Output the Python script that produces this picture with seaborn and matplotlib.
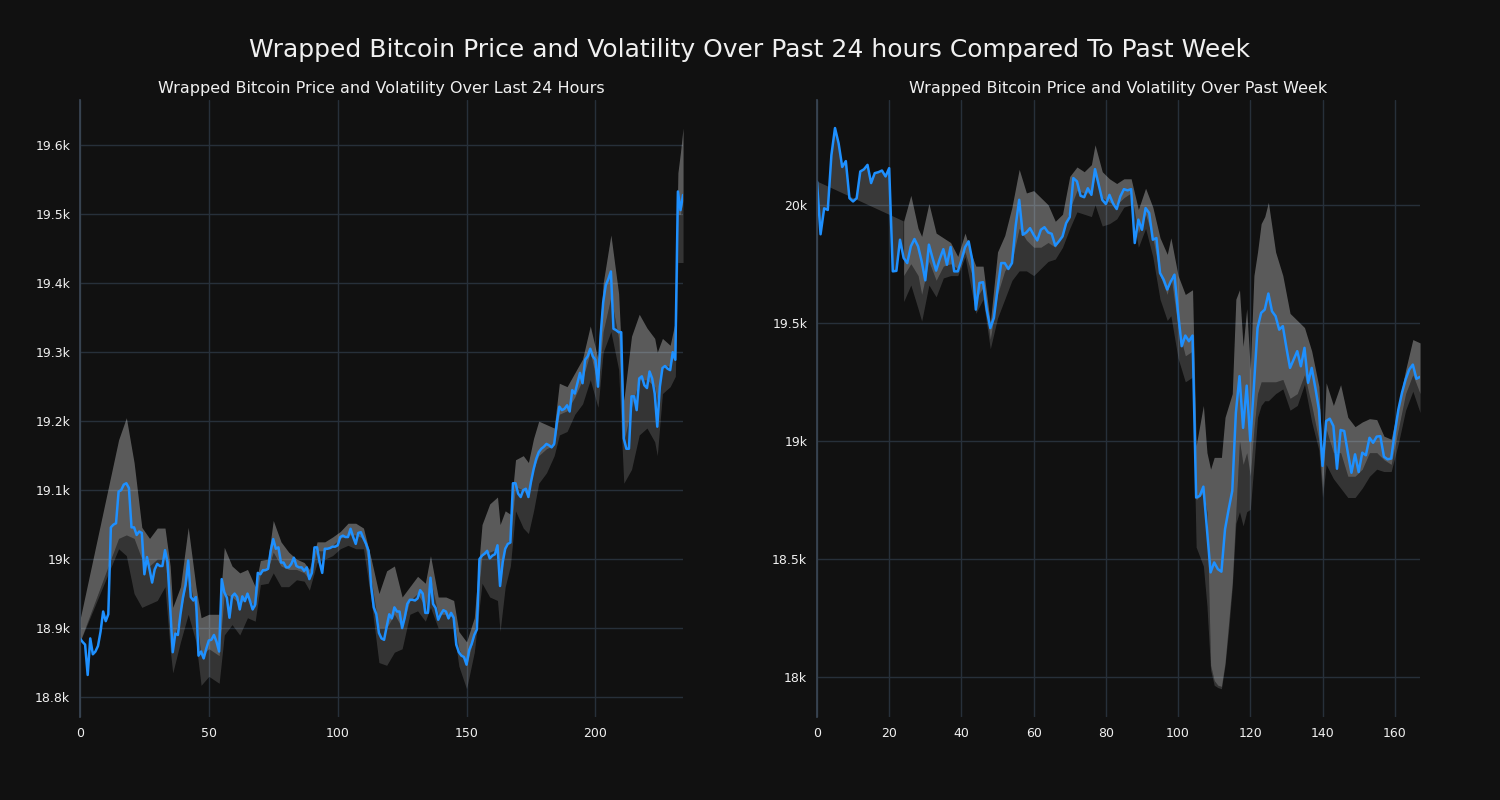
import numpy as np
import matplotlib
matplotlib.use('Agg')
import matplotlib.pyplot as plt
from matplotlib.ticker import FuncFormatter, MultipleLocator
import seaborn as sns

# ---- last 24 hours ----
day_price = [
    18885, 18880, 18876, 18832, 18885, 18862, 18866, 18874, 18895, 18924,
    18910, 18920, 19046, 19050, 19052, 19098, 19100, 19108, 19110, 19103,
    19046, 19046, 19035, 19040, 19038, 18978, 19003, 18985, 18966, 18985,
    18993, 18990, 18990, 19013, 18995, 18930, 18865, 18892, 18890, 18920,
    18945, 18963, 18998, 18945, 18940, 18945, 18860, 18866, 18856, 18870,
    18882, 18883, 18890, 18880, 18866, 18971, 18952, 18944, 18915, 18946,
    18950, 18945, 18927, 18946, 18939, 18950, 18939, 18927, 18934, 18980,
    18978, 18984, 18984, 18986, 19012, 19029, 19015, 19017, 18995, 18995,
    18988, 18988, 18993, 19002, 18990, 18988, 18988, 18983, 18988, 18971,
    18980, 19017, 19017, 18995, 18980, 19015, 19015, 19016, 19018, 19018,
    19020, 19032, 19034, 19032, 19032, 19044, 19032, 19022, 19038, 19039,
    19030, 19022, 19012, 18960, 18930, 18920, 18893, 18885, 18883, 18902,
    18920, 18914, 18930, 18924, 18924, 18900, 18915, 18935, 18941, 18941,
    18940, 18943, 18955, 18950, 18922, 18922, 18973, 18935, 18929, 18912,
    18920, 18926, 18924, 18914, 18922, 18915, 18876, 18865, 18860, 18858,
    18847, 18868, 18877, 18890, 18898, 19000, 19005, 19008, 19012, 19001,
    19005, 19007, 19020, 18961, 18995, 19015, 19022, 19024, 19110, 19110,
    19095, 19090, 19100, 19102, 19090, 19112, 19130, 19145, 19155, 19160,
    19163, 19167, 19165, 19162, 19167, 19197, 19221, 19216, 19218, 19223,
    19214, 19245, 19240, 19255, 19270, 19255, 19289, 19294, 19305, 19294,
    19289, 19250, 19323, 19372, 19397, 19406, 19417, 19334, 19332, 19329,
    19329, 19175, 19160, 19160, 19236, 19236, 19216, 19262, 19265, 19252,
    19248, 19272, 19262, 19240, 19192, 19250, 19277, 19280, 19276, 19274,
    19300, 19289, 19533, 19506, 19528,
]
day_band_x = [0, 15, 18, 21, 24, 27, 30, 33, 35, 36, 39, 42, 45, 47, 50, 54, 56,
              59, 62, 65, 68, 70, 73, 75, 78, 81, 84, 87, 89, 92, 95, 98, 101,
              104, 107, 110, 113, 116, 119, 122, 125, 128, 131, 134, 136, 139,
              142, 145, 147, 150, 153, 156, 159, 162, 163, 165, 167, 169, 172,
              174, 176, 178, 181, 184, 186, 189, 192, 195, 198, 201, 203, 206,
              209, 211, 214, 217, 220, 223, 224, 226, 229, 231, 232, 233, 234]
day_band_lo = [18880, 19015, 19005, 18950, 18930, 18935, 18940, 18960, 18870, 18835,
               18880, 18920, 18880, 18817, 18830, 18820, 18890, 18905, 18890, 18915,
               18910, 18963, 18965, 18980, 18960, 18960, 18970, 18968, 18955, 18995,
               19000, 19005, 19015, 19020, 19015, 19015, 18940, 18850, 18846, 18865,
               18870, 18920, 18925, 18910, 18930, 18900, 18900, 18900, 18845, 18812,
               18865, 18965, 18945, 18940, 18895, 18960, 18990, 19070, 19045, 19037,
               19070, 19110, 19125, 19150, 19180, 19185, 19210, 19225, 19260, 19220,
               19300, 19330, 19275, 19110, 19130, 19180, 19190, 19170, 19150, 19240,
               19250, 19265, 19430, 19430, 19430]
day_band_mid = [18880, 19030, 19035, 19030, 19000, 18990, 19000, 19000, 18930, 18880,
                18920, 18980, 18920, 18860, 18870, 18860, 18950, 18945, 18935, 18945,
                18930, 18980, 18985, 19010, 18990, 18985, 18985, 18980, 18970, 19012,
                19012, 19020, 19030, 19035, 19035, 19030, 18970, 18900, 18900, 18920,
                18900, 18940, 18950, 18930, 18970, 18920, 18920, 18915, 18870, 18845,
                18890, 19005, 19010, 19015, 18960, 19020, 19030, 19105, 19100, 19090,
                19130, 19150, 19160, 19165, 19210, 19215, 19235, 19260, 19300, 19250,
                19330, 19380, 19320, 19170, 19220, 19260, 19260, 19250, 19230, 19280,
                19280, 19300, 19500, 19500, 19520]
day_band_hi = [18912, 19173, 19205, 19140, 19046, 19030, 19045, 19045, 18990, 18930,
               18960, 19046, 18960, 18915, 18920, 18920, 19017, 18990, 18980, 18985,
               18960, 18998, 19000, 19056, 19025, 19010, 19000, 18995, 18985, 19025,
               19025, 19032, 19040, 19052, 19052, 19045, 19000, 18950, 18983, 18990,
               18945, 18960, 18975, 18965, 19005, 18945, 18945, 18940, 18895, 18880,
               18915, 19050, 19080, 19090, 19050, 19070, 19065, 19144, 19150, 19140,
               19175, 19200, 19195, 19190, 19255, 19250, 19270, 19290, 19338, 19290,
               19400, 19470, 19385, 19230, 19323, 19355, 19335, 19320, 19300, 19320,
               19310, 19345, 19560, 19590, 19625]

# ---- past week ----
week_price = [
    20099, 19875, 19985, 19978, 20210, 20325, 20260, 20160, 20185, 20028,
    20014, 20028, 20141, 20150, 20169, 20092, 20134, 20138, 20145, 20120,
    20155, 19718, 19720, 19852, 19775, 19753, 19824, 19855, 19824, 19760,
    19680, 19831, 19775, 19721, 19770, 19812, 19746, 19821, 19718, 19718,
    19765, 19820, 19845, 19767, 19556, 19669, 19672, 19556, 19478, 19521,
    19641, 19753, 19753, 19728, 19753, 19908, 20021, 19873, 19883, 19901,
    19873, 19849, 19894, 19905, 19883, 19877, 19827, 19845, 19866, 19922,
    19948, 20113, 20099, 20038, 20032, 20070, 20042, 20151, 20085, 20021,
    20003, 20042, 20005, 19982, 20035, 20066, 20061, 20066, 19838, 19937,
    19894, 19986, 19965, 19852, 19859, 19711, 19683, 19641, 19676, 19704,
    19542, 19401, 19446, 19422, 19446, 18760, 18767, 18806, 18626, 18443,
    18485, 18457, 18446, 18626, 18710, 18788, 19119, 19274, 19055, 19234,
    18999, 19232, 19478, 19542, 19556, 19624, 19549, 19528, 19471, 19486,
    19394, 19309, 19345, 19380, 19316, 19394, 19246, 19309, 19225, 19133,
    18894, 19084, 19094, 19063, 18882, 19046, 19042, 18950, 18865, 18943,
    18868, 18950, 18939, 19013, 18992, 19018, 19020, 18933, 18922, 18925,
    19035, 19133, 19204, 19260, 19302, 19323, 19263, 19271,
]
week_wedge_x = [0, 24]
week_wedge_y = [20099, 19930]
week_band_x = [24, 26, 28, 29, 31, 33, 35, 37, 39, 41, 43, 44, 46, 48, 50, 52, 54,
               56, 58, 60, 62, 64, 66, 68, 70, 72, 74, 76, 77, 79, 81, 83, 85, 87,
               89, 91, 93, 95, 97, 98, 100, 102, 104, 105, 107, 108, 109, 110, 111,
               112, 113, 114, 115, 116, 117, 118, 119, 120, 121, 122, 123, 124, 125,
               127, 129, 131, 133, 135, 137, 139, 140, 141, 143, 145, 147, 149, 151,
               153, 155, 157, 159, 161, 163, 165, 167]
week_band_lo = [19590, 19660, 19560, 19507, 19660, 19610, 19690, 19700, 19700, 19780,
                19620, 19540, 19600, 19390, 19520, 19600, 19680, 19720, 19720, 19700,
                19730, 19760, 19770, 19820, 19900, 19970, 19960, 19950, 20000, 19910,
                19920, 19940, 19990, 20000, 19820, 19900, 19780, 19600, 19510, 19530,
                19350, 19250, 19270, 18550, 18470, 18300, 18030, 17965, 17955, 17950,
                18050, 18200, 18380, 18650, 18700, 18640, 18700, 18710, 18900, 19100,
                19150, 19170, 19170, 19200, 19220, 19130, 19150, 19240, 19080, 18960,
                18760, 18900, 18840, 18800, 18760, 18760, 18800, 18850, 18880, 18870,
                18870, 18990, 19130, 19210, 19120]
week_band_mid = [19700, 19750, 19700, 19620, 19760, 19680, 19740, 19750, 19730, 19800,
                 19700, 19600, 19650, 19430, 19620, 19720, 19760, 19900, 19850, 19820,
                 19820, 19840, 19820, 19870, 19980, 20060, 20050, 20050, 20120, 20030,
                 20010, 20000, 20030, 20050, 19880, 19960, 19860, 19700, 19620, 19700,
                 19480, 19360, 19380, 18750, 18780, 18700, 18050, 17985, 17965, 17960,
                 18060, 18230, 18400, 18700, 19000, 18900, 18950, 18850, 19050, 19200,
                 19250, 19250, 19250, 19250, 19260, 19180, 19200, 19280, 19150, 19000,
                 18800, 19050, 18950, 18950, 18850, 18850, 18880, 18950, 18950, 18920,
                 18900, 19050, 19200, 19280, 19200]
week_band_hi = [19930, 20040, 19900, 19866, 20005, 19880, 19860, 19840, 19781, 19880,
                19780, 19740, 19740, 19500, 19800, 19870, 19990, 20150, 20050, 20060,
                20030, 20000, 19930, 19960, 20120, 20160, 20140, 20170, 20254, 20140,
                20110, 20090, 20110, 20110, 19980, 20070, 19990, 19860, 19790, 19860,
                19700, 19620, 19640, 18980, 19150, 18950, 18880, 18930, 18930, 18930,
                19100, 19150, 19200, 19600, 19640, 19400, 19560, 19300, 19700, 19800,
                19920, 19950, 20010, 19800, 19700, 19540, 19510, 19480, 19380, 19230,
                18900, 19246, 19150, 19238, 19100, 19060, 19080, 19094, 19090, 19020,
                19007, 19150, 19300, 19429, 19415]

BG = '#111111'
GRID = '#27303a'

sns.set_theme(style='dark', rc={
    'axes.facecolor': BG,
    'figure.facecolor': BG,
    'axes.grid': True,
    'grid.color': GRID,
    'grid.linewidth': 1.0,
    'axes.edgecolor': '#3a4654',
    'text.color': '#f0f0f0',
    'xtick.color': '#f0f0f0',
    'ytick.color': '#f0f0f0',
    'axes.labelcolor': '#f0f0f0',
})
plt.rcParams['font.family'] = ['DejaVu Sans']


def k_fmt(v, _):
    return f'{v / 1000:g}k'


def draw_panel(ax, price, band_x, lo, mid, hi, title, xstep, ystep, wedge=None):
    x = np.arange(len(price))
    ax.fill_between(band_x, lo, mid, color='white', alpha=0.15, lw=0)
    ax.fill_between(band_x, mid, hi, color='white', alpha=0.31, lw=0)
    if wedge is not None:
        wx, wy = wedge
        n = wx[-1] + 1
        ax.fill(np.r_[x[:n], wx[::-1]], np.r_[price[:n], wy[::-1]],
                color='white', alpha=0.17, lw=0)
    sns.lineplot(x=x, y=price, ax=ax, color='#1e90ff', linewidth=1.8)
    ax.set_xlim(0, len(price) - 1)
    ax.xaxis.set_major_locator(MultipleLocator(xstep))
    ax.yaxis.set_major_locator(MultipleLocator(ystep))
    ax.yaxis.set_major_formatter(FuncFormatter(k_fmt))
    ax.set_title(title, fontsize=11.5, color='#f0f0f0', pad=5)
    ax.set_xlabel('')
    ax.set_ylabel('')
    ax.tick_params(length=0, labelsize=9, pad=7)
    for side in ['top', 'right', 'bottom']:
        ax.spines[side].set_visible(False)
    ax.spines['left'].set_color('#3a4654')
    ax.grid(True, color=GRID)


fig, axs = plt.subplots(1, 2, figsize=(15, 8), dpi=100)
fig.subplots_adjust(left=0.0533, right=0.9467, top=0.875, bottom=0.104, wspace=0.222)

draw_panel(axs[0], np.array(day_price), day_band_x, day_band_lo, day_band_mid, day_band_hi,
           'Wrapped Bitcoin Price and Volatility Over Last 24 Hours', 50, 100)
draw_panel(axs[1], np.array(week_price), week_band_x, week_band_lo, week_band_mid, week_band_hi,
           'Wrapped Bitcoin Price and Volatility Over Past Week', 20, 500,
           wedge=(np.array(week_wedge_x), np.array(week_wedge_y)))

fig.suptitle('Wrapped Bitcoin Price and Volatility Over Past 24 hours Compared To Past Week',
             fontsize=18, color='#f0f0f0', y=0.953)

fig.savefig('out.png', dpi=100, facecolor=BG)
